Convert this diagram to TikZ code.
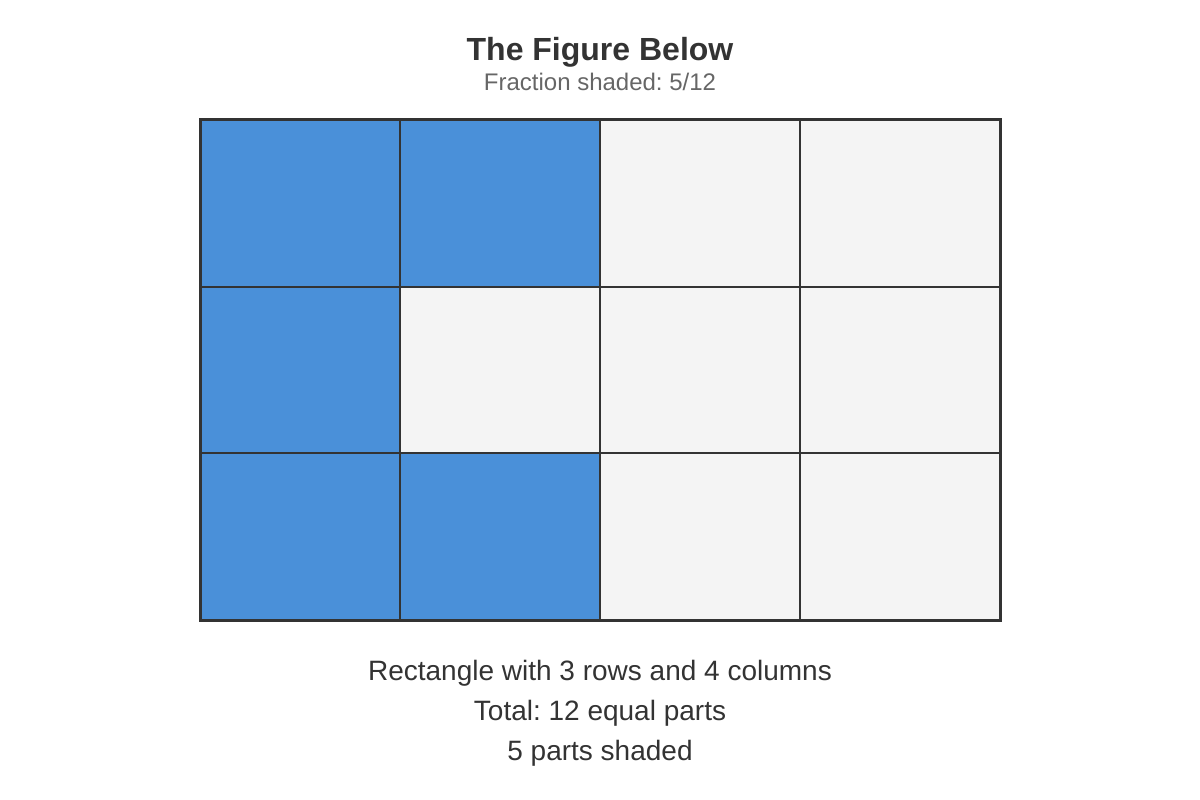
\documentclass[tikz,border=0pt]{standalone}
\usepackage{fontspec}
\setmainfont{Liberation Sans}
\definecolor{shade}{HTML}{4A90D9}
\definecolor{blank}{HTML}{F4F4F4}
\definecolor{ink}{HTML}{333333}
\definecolor{subink}{HTML}{666666}
\frenchspacing
\begin{document}
\begin{tikzpicture}[x=1pt,y=-1pt,
  cell/.style={draw=ink,line width=2pt,minimum width=200pt,minimum height=166.67pt,inner sep=0pt,outer sep=0pt},
  on/.style={cell,fill=shade},
  off/.style={cell,fill=blank},
  caption/.style={anchor=base,text=ink,font=\fontsize{28}{32}\selectfont}]
\useasboundingbox (0,0) rectangle (1200,800);
\node[anchor=base,text=ink,font=\bfseries\fontsize{32}{36}\selectfont] (title) at (600,60) {The Figure Below};
\node[anchor=base,text=subink,font=\fontsize{24}{28}\selectfont] (sub) at (600,90) {Fraction shaded: 5/12};
% row 1
\node[on]  (c11) at (300,203.33) {};
\node[on]  (c12) at (500,203.33) {};
\node[off] (c13) at (700,203.33) {};
\node[off] (c14) at (900,203.33) {};
% row 2
\node[on]  (c21) at (300,370) {};
\node[off] (c22) at (500,370) {};
\node[off] (c23) at (700,370) {};
\node[off] (c24) at (900,370) {};
% row 3
\node[on]  (c31) at (300,536.67) {};
\node[on]  (c32) at (500,536.67) {};
\node[off] (c33) at (700,536.67) {};
\node[off] (c34) at (900,536.67) {};
\draw[ink,line width=3pt] (c11.north west) rectangle (c34.south east);
\node[caption] (l1) at (600,680) {Rectangle with 3 rows and 4 columns};
\node[caption] (l2) at (600,720) {Total: 12 equal parts};
\node[caption] (l3) at (600,760) {5 parts shaded};
\end{tikzpicture}
\end{document}
